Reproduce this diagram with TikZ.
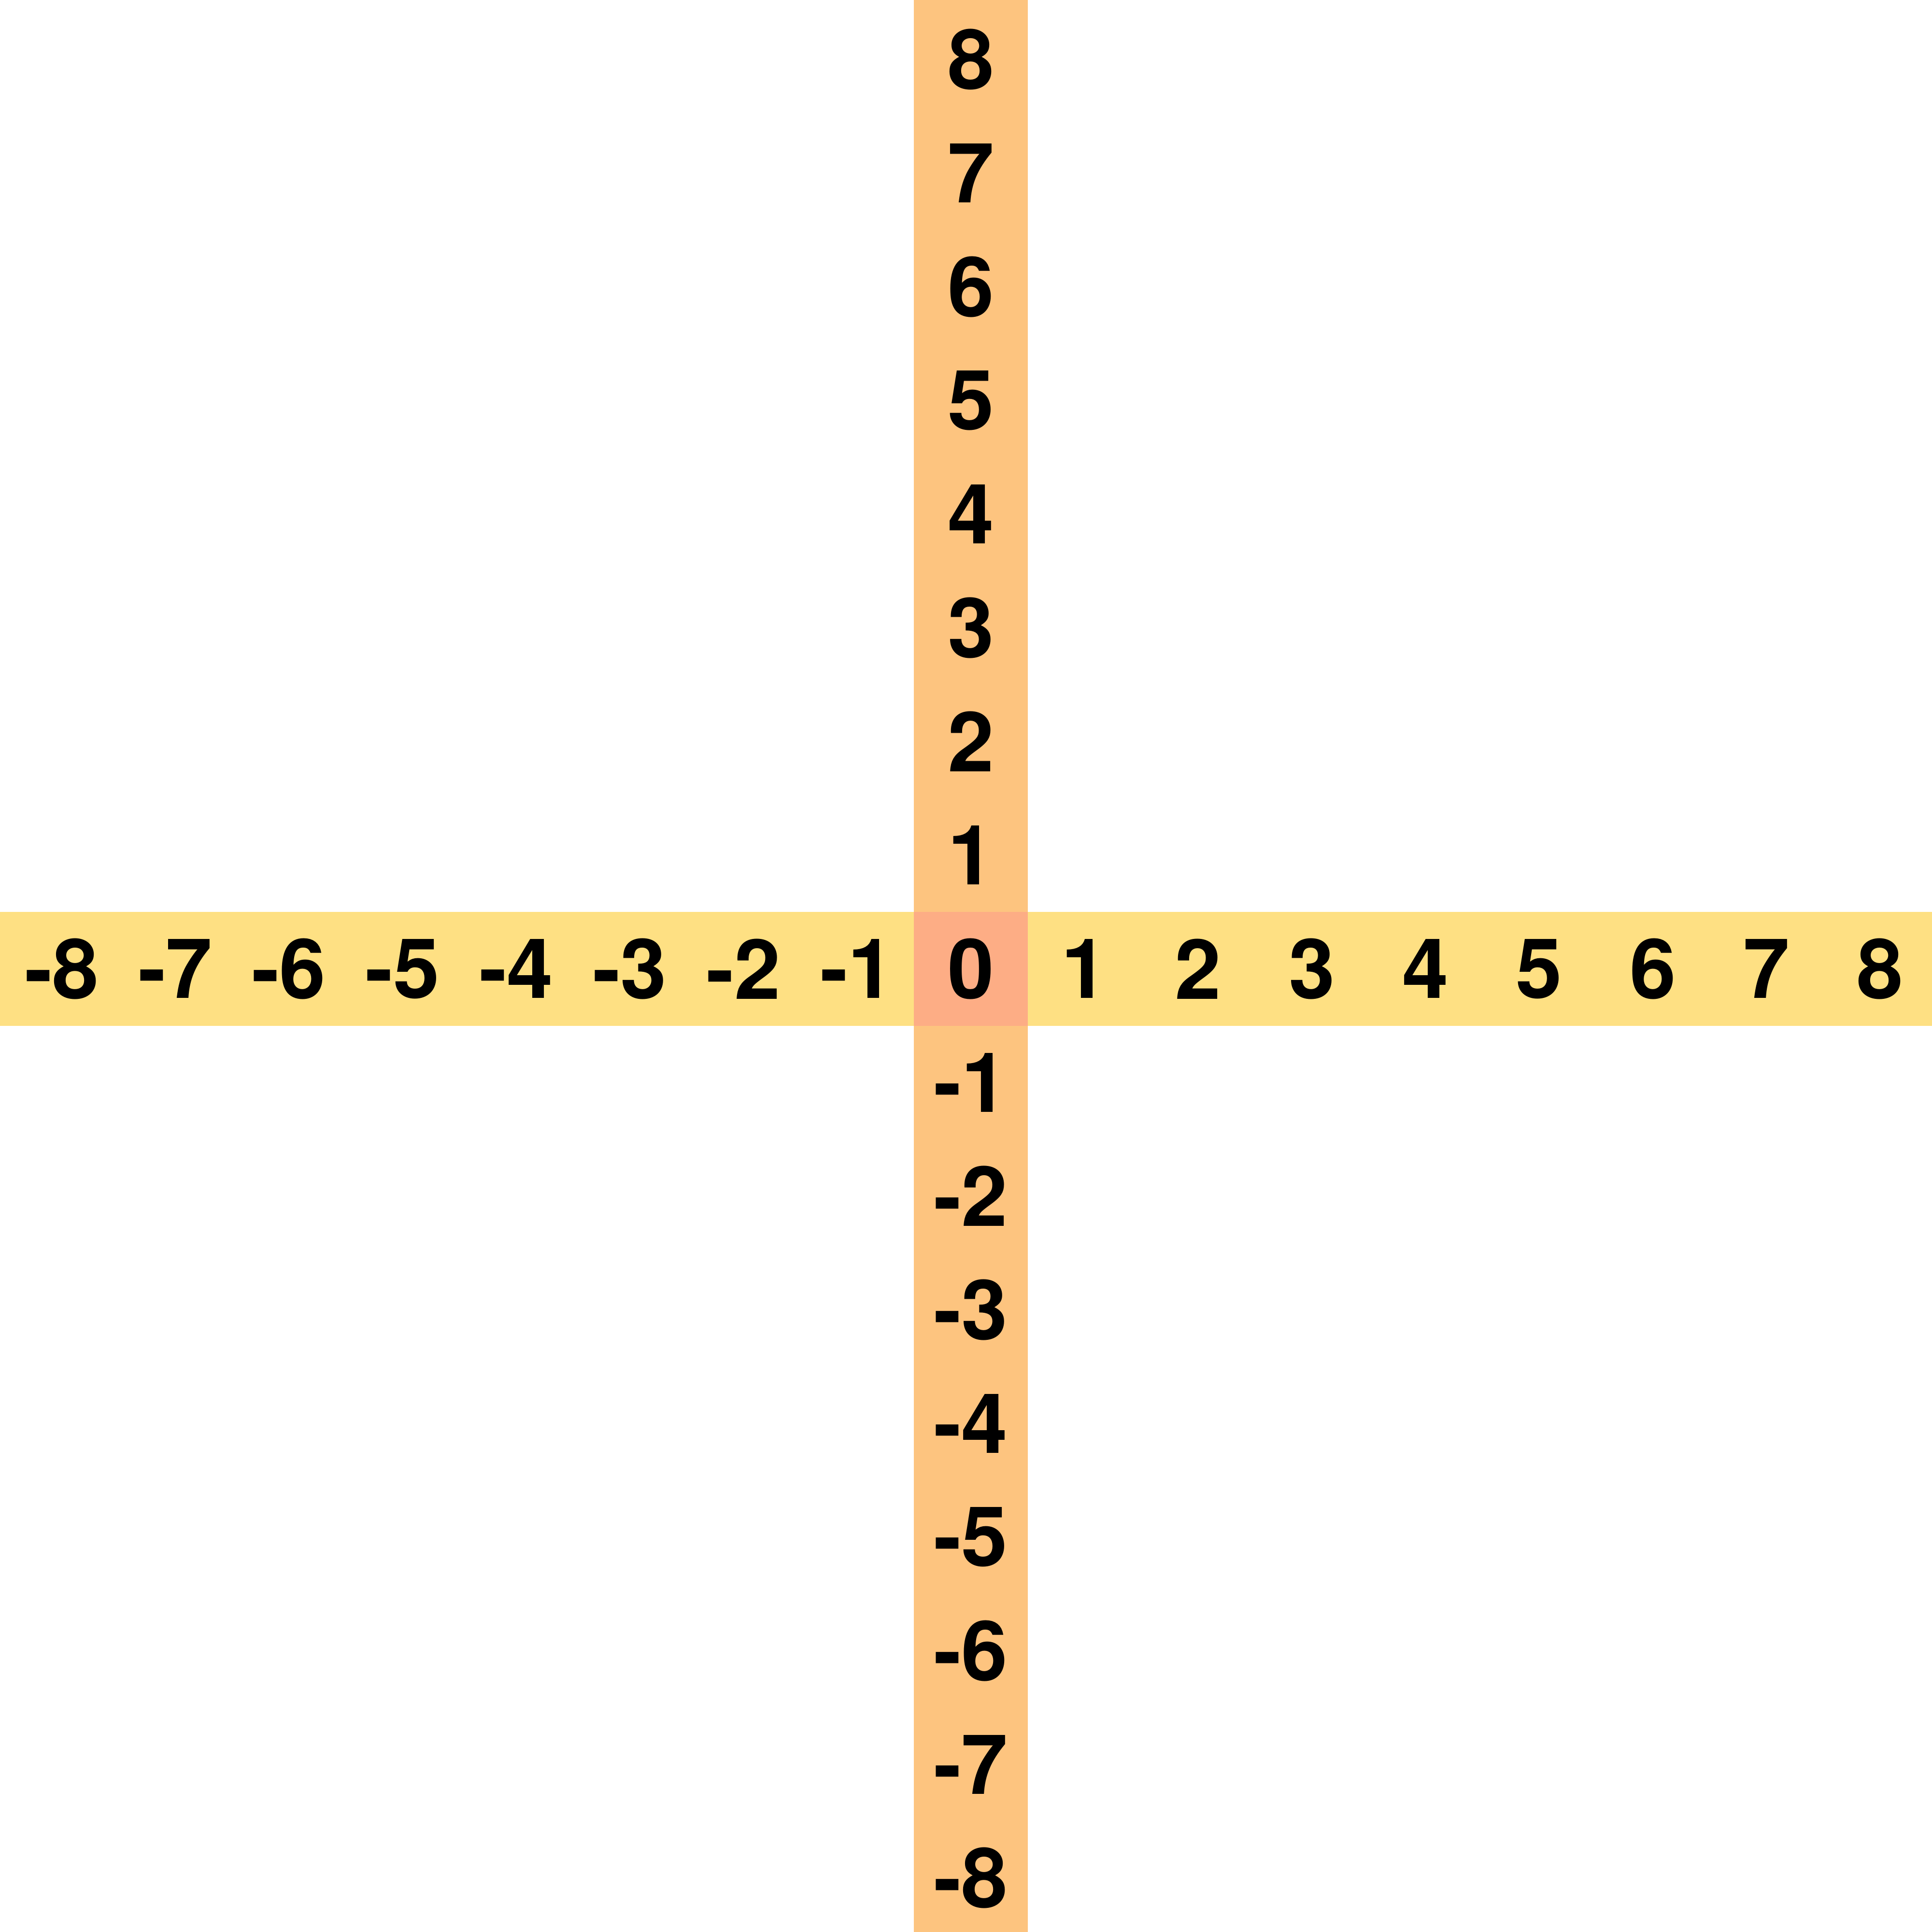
\documentclass[tikz,border=0pt]{standalone}
\usepackage{fontspec}
\setmainfont{TeX Gyre Heros}
\definecolor{rowband}{HTML}{FEE083}
\definecolor{colband}{HTML}{FDC47F}
\definecolor{origincell}{HTML}{FDAD85}

\begin{document}
\begin{tikzpicture}[font=\fontsize{20.8}{25}\selectfont\bfseries, cell/.style={minimum size=1cm, inner sep=0pt}]
    \useasboundingbox (-8.542,-8.474) rectangle (8.457,8.525);
    \fill[rowband] (-8.6,-0.5) rectangle (8.6,0.5);
    \fill[colband] (-0.5,-8.6) rectangle (0.5,8.6);
    \node[cell, fill=origincell] (c0) at (0,0) {0};

    \foreach \n in {1, 2, 3, 4, 5, 6, 7, 8} {
        \node[cell] (x\n) at (\n,0) {\n};
        \node[cell] (xm\n) at (-\n,0) {-\n};
        \node[cell] (y\n) at (0,\n) {\n};
        \node[cell] (ym\n) at (0,-\n) {-\n};
    };
\end{tikzpicture}
\end{document}
